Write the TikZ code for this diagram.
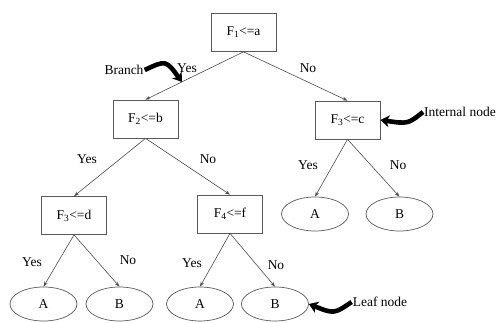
\documentclass[tikz,border=0pt]{standalone}
\usepackage{fontspec}
\setmainfont{Liberation Serif}
\usetikzlibrary{positioning,shapes.geometric,arrows.meta}

\begin{document}
\begin{tikzpicture}[
    x=1pt, y=-1pt,
    font=\fontsize{13.5}{15}\selectfont,
    box/.style={rectangle, draw=black!65, line width=0.7pt, fill=white,
                minimum width=65pt, minimum height=38pt, inner sep=2pt},
    leaf/.style={ellipse, draw=black!65, line width=0.7pt,
                 minimum width=67pt, minimum height=34pt, inner sep=0pt},
    arr/.style={-{Stealth[length=5pt,width=3.5pt]}, draw=black!70, line width=0.6pt},
    lbl/.style={inner sep=1pt},
    callout/.style={-{Stealth[length=9pt,width=12pt]}, line width=4.6pt, black}
]
    \useasboundingbox (0,0) rectangle (501,323);

    % tests
    \node[box] (f1)  at (243.5,32.5) {F\textsubscript{1}<=a};
    \node[box] (f2)  at (145.5,119)  {F\textsubscript{2}<=b};
    \node[box] (f3c) at (347.5,120)  {F\textsubscript{3}<=c};
    \node[box] (f3d) at (74,215.5)   {F\textsubscript{3}<=d};
    \node[box] (f4)  at (230,214)    {F\textsubscript{4}<=f};

    % leaves
    \node[leaf] (a1) at (43.5,304) {A};
    \node[leaf] (b1) at (119.5,304) {B};
    \node[leaf] (a2) at (200,304)  {A};
    \node[leaf] (b2) at (275,304)  {B};
    \node[leaf] (a3) at (315,214)  {A};
    \node[leaf] (b3) at (399.5,214) {B};

    \draw[arr] (f1.south)  -- (f2.north);
    \draw[arr] (f1.south)  -- (f3c.north);
    \draw[arr] (f2.south)  -- (f3d.north);
    \draw[arr] (f2.south)  -- (f4.north);
    \draw[arr] (f3c.south) -- (a3.north);
    \draw[arr] (f3c.south) -- (b3.north);
    \draw[arr] (f3d.south) -- (a1.north);
    \draw[arr] (f3d.south) -- (b1.north);
    \draw[arr] (f4.south)  -- (a2.north);
    \draw[arr] (f4.south)  -- (b2.north);

    % edge labels
    \node[lbl] (y1) at (187,68)  {Yes};
    \node[lbl] (n1) at (308,68)  {No};
    \node[lbl] (y2) at (87,159)  {Yes};
    \node[lbl] (n2) at (208,159) {No};
    \node[lbl] (y3) at (308,165) {Yes};
    \node[lbl] (n3) at (398,165) {No};
    \node[lbl] (y4) at (32,262)  {Yes};
    \node[lbl] (n4) at (128,260) {No};
    \node[lbl] (y5) at (192,263) {Yes};
    \node[lbl] (n5) at (276,265) {No};

    % callouts
    \node[lbl] (branch) at (124,70)  {Branch};
    \node[lbl] (inner)  at (460,112) {Internal node};
    \node[lbl] (leafl)  at (380,302) {Leaf node};
    \coordinate (brtip) at (182,82);

    \draw[callout] (branch.east) .. controls (166,60) .. (brtip);
    \draw[callout] (inner.west) .. controls (408,124) .. (f3c.east);
    \draw[callout] (leafl.west) .. controls (334,314) .. (b2.east);
\end{tikzpicture}
\end{document}
